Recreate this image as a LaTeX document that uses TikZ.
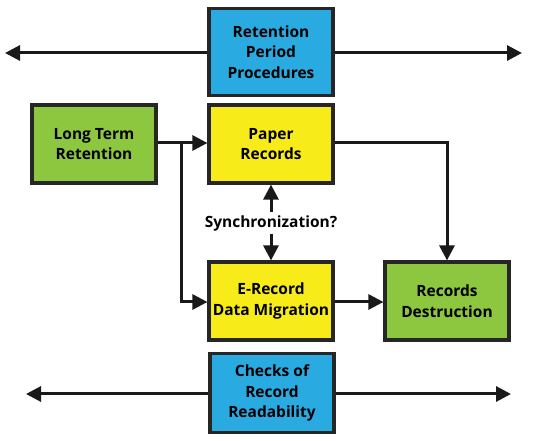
\documentclass[tikz,border=0pt]{standalone}
\usepackage{fontspec}
\setmainfont{Open Sans}
\usetikzlibrary{arrows.meta}
\definecolor{cblue}{HTML}{29ABE2}
\definecolor{cyellow}{HTML}{F7EC1A}
\definecolor{cgreen}{HTML}{8DC63F}
\begin{document}
\begin{tikzpicture}[x=1pt,y=-1pt,
  box/.style={draw=black!85, line width=3.2pt, minimum width=124pt, minimum height=78pt,
    align=center, font=\bfseries\fontsize{15.5}{20.5}\selectfont, inner sep=0pt},
  conn/.style={line width=3pt, draw=black!90, -{Triangle[length=15pt,width=15pt]}}]
\useasboundingbox (0,0) rectangle (550,441);
\node[box, fill=cblue, minimum height=87pt] (rpp) at (271,52) {Retention\\Period\\Procedures};
\node[box, fill=cgreen] (ltr) at (94,144) {Long Term\\Retention};
\node[box, fill=cyellow] (paper) at (271,144) {Paper\\Records};
\node[box, fill=cyellow] (erec) at (271,301) {E-Record\\Data Migration};
\node[box, fill=cgreen] (dest) at (447,301) {Records\\Destruction};
\node[box, fill=cblue, minimum height=79pt] (chk) at (272,393) {Checks of\\Record\\Readability};
\node[font=\bfseries\fontsize{15.5}{20.5}\selectfont, inner sep=3pt] (sync) at (271,223) {Synchronization?};
\coordinate (l1) at (5,53);
\coordinate (r1) at (522,53);
\coordinate (l2) at (26,394);
\coordinate (r2) at (511,394);
\coordinate (br) at (181,144);
\draw[conn] (rpp.west |- 0,53) -- (l1);
\draw[conn] (rpp.east |- 0,53) -- (r1);
\draw[conn] (chk.west |- 0,394) -- (l2);
\draw[conn] (chk.east |- 0,394) -- (r2);
\draw[conn] (ltr.east |- 0,143) -- (paper.west |- 0,143);
\draw[conn] (br |- 0,143) -- (br |- 0,302) -- (erec.west |- 0,302);
\draw[conn] (paper.east |- 0,143) -- (dest.north |- 0,143) -- (dest.north);
\draw[conn] (erec.east |- 0,302) -- (dest.west |- 0,302);
\draw[conn] (sync.north) -- (paper.south);
\draw[conn] (sync.south) -- (erec.north);
\end{tikzpicture}
\end{document}
